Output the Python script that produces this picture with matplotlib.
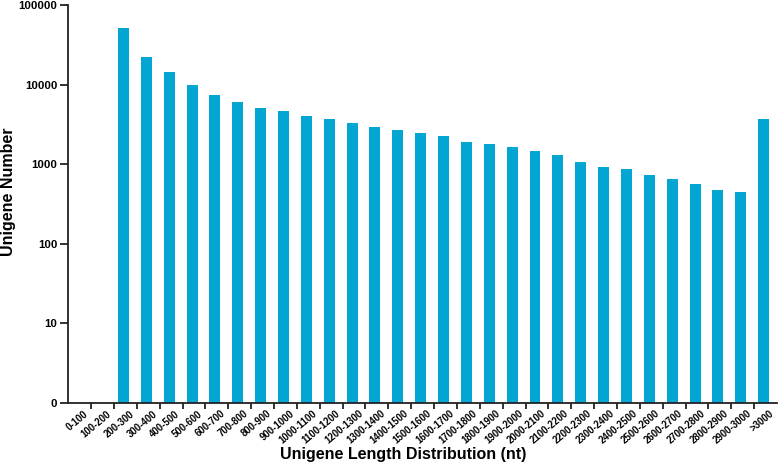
import numpy as np
import matplotlib
matplotlib.use("Agg")
import matplotlib.pyplot as plt
from matplotlib.ticker import NullLocator, FixedLocator

categories = ["0-100", "100-200", "200-300", "300-400", "400-500", "500-600", "600-700",
              "700-800", "800-900", "900-1000", "1000-1100", "1100-1200", "1200-1300",
              "1300-1400", "1400-1500", "1500-1600", "1600-1700", "1700-1800", "1800-1900",
              "1900-2000", "2000-2100", "2100-2200", "2200-2300", "2300-2400", "2400-2500",
              "2500-2600", "2600-2700", "2700-2800", "2800-2900", "2900-3000", ">3000"]
counts = [0, 0, 50900, 22200, 14300, 9970, 7460, 6100, 5030, 4700, 4070, 3700, 3300,
          2930, 2660, 2490, 2260, 1920, 1810, 1660, 1480, 1300, 1060, 920, 870,
          725, 657, 558, 474, 444, 3730]
ytick_values = [1, 10, 100, 1000, 10000, 100000]
ytick_labels = ["0", "10", "100", "1000", "10000", "100000"]

plt.rcParams['font.family'] = ["Liberation Sans", "DejaVu Sans"]

fig = plt.figure(figsize=(7.78, 4.65), dpi=100)
ax = fig.add_axes([0.0878, 0.1333, 0.9109, 0.8557])

x = np.arange(len(categories))
h = np.array([c if c > 0 else np.nan for c in counts], dtype=float)
ax.bar(x + 0.415, h, width=0.48, color="#03a6d2", linewidth=0)

ax.set_yscale("log")
ax.set_ylim(1, 100000)
ax.set_xlim(0, len(categories))

ax.yaxis.set_major_locator(FixedLocator(ytick_values))
ax.yaxis.set_minor_locator(NullLocator())
ax.set_yticklabels(ytick_labels, fontweight="bold", fontsize=8.2)

ax.set_xticks(np.arange(1, len(categories)))
ax.set_xticklabels([])
ax.xaxis.set_minor_locator(NullLocator())
for i, lab in enumerate(categories):
    ax.text(i + 0.68, -0.014, lab, transform=ax.get_xaxis_transform(),
            rotation=40, rotation_mode="anchor", ha="right", va="top",
            fontweight="bold", fontsize=6.9)

for s in ["top", "right"]:
    ax.spines[s].set_visible(False)
for s in ["left", "bottom"]:
    ax.spines[s].set_linewidth(1.3)
    ax.spines[s].set_color("#222222")
ax.tick_params(axis="y", length=6, width=1.3, color="#222222", pad=2)
ax.tick_params(axis="x", length=4, width=1.3, color="#222222")

fig.text(9 / 778, 1 - 192 / 465, "Unigene Number", rotation=90, ha="center", va="center",
         fontsize=11.5, fontweight="bold")
fig.text(403 / 778, 1 - 459 / 465, "Unigene Length Distribution (nt)", ha="center", va="baseline",
         fontsize=11.5, fontweight="bold")

fig.savefig("out.png", dpi=100)
